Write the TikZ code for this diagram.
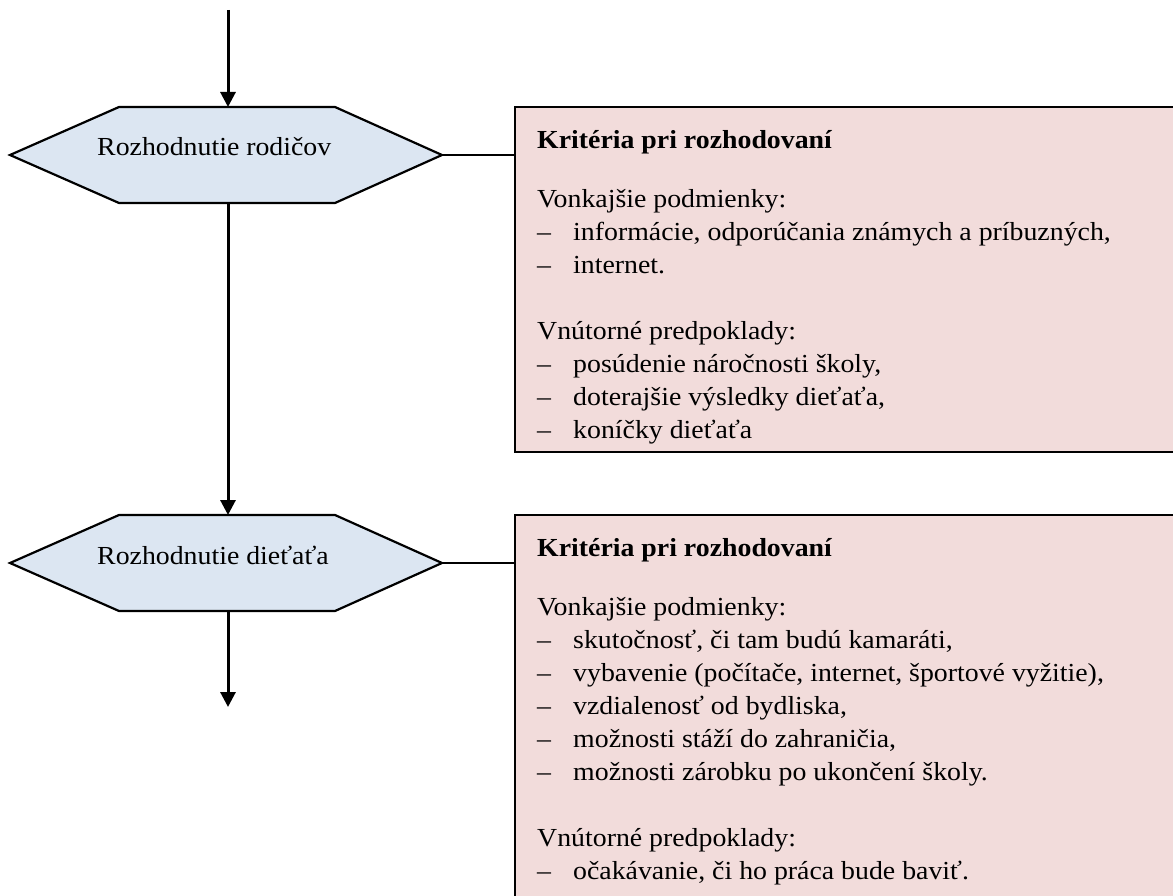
\documentclass[tikz,border=0pt]{standalone}
\usepackage{fontspec}
\setmainfont{Liberation Serif}[FakeStretch=1.07]
\usetikzlibrary{arrows.meta}
\definecolor{hexfill}{HTML}{DCE6F2}
\definecolor{boxfill}{HTML}{F2DCDB}
\newcommand{\dashitem}[1]{\makebox[36pt][l]{–}#1}
\begin{document}
\begin{tikzpicture}[x=1pt,y=-1pt,
  flow/.style={line width=3pt,-{Triangle[width=15pt,length=15pt]}},
  link/.style={line width=2pt},
  hexa/.style={fill=hexfill,draw=black,line width=2.2pt},
  critbox/.style={fill=boxfill,draw=black,line width=2.6pt},
  hextext/.style={anchor=base west,inner sep=0pt,font=\fontsize{26}{33}\selectfont},
  listtext/.style={anchor=north west,inner sep=0pt,align=left,font=\fontsize{26}{33}\selectfont}]
\useasboundingbox (0,0) rectangle (1173,896);
\clip (0,0) rectangle (1173,896);
% criteria boxes
\draw[critbox] (515,107) rectangle (1200,452);
\draw[critbox] (515,515) rectangle (1200,930);
% hexagons
\draw[hexa] (10,155) -- (119,107) -- (335,107) -- (442,155) -- (335,203) -- (119,203) -- cycle;
\draw[hexa] (10,563) -- (119,515) -- (335,515) -- (442,563) -- (335,611) -- (119,611) -- cycle;
\coordinate (start) at (228,10);
\coordinate (h1top) at (228,107);
\coordinate (h1bot) at (228,203);
\coordinate (h1right) at (442,155);
\coordinate (b1left) at (515,155);
\coordinate (h2top) at (228,515);
\coordinate (h2bot) at (228,611);
\coordinate (h2right) at (442,563);
\coordinate (b2left) at (515,563);
\coordinate (end) at (228,707);
\node[hextext] (r1) at (97,156) {Rozhodnutie rodičov};
\node[hextext] (r2) at (97,564) {Rozhodnutie dieťaťa};
% connectors
\draw[flow] (start) -- (h1top);
\draw[flow] (h1bot) -- (h2top);
\draw[flow] (h2bot) -- (end);
\draw[link] (h1right) -- (b1left);
\draw[link] (h2right) -- (b2left);
% texts
\node[listtext] (k1) at (537,130) {\textbf{Kritéria pri rozhodovaní}\\[26.5pt]
Vonkajšie podmienky:\\
\dashitem{informácie, odporúčania známych a príbuzných,}\\
\dashitem{internet.}\\[33pt]
Vnútorné predpoklady:\\
\dashitem{posúdenie náročnosti školy,}\\
\dashitem{doterajšie výsledky dieťaťa,}\\
\dashitem{koníčky dieťaťa}};
\node[listtext] (k2) at (537,538) {\textbf{Kritéria pri rozhodovaní}\\[26.5pt]
Vonkajšie podmienky:\\
\dashitem{skutočnosť, či tam budú kamaráti,}\\
\dashitem{vybavenie (počítače, internet, športové vyžitie),}\\
\dashitem{vzdialenosť od bydliska,}\\
\dashitem{možnosti stáží do zahraničia,}\\
\dashitem{možnosti zárobku po ukončení školy.}\\[33pt]
Vnútorné predpoklady:\\
\dashitem{očakávanie, či ho práca bude baviť.}};
\end{tikzpicture}
\end{document}
